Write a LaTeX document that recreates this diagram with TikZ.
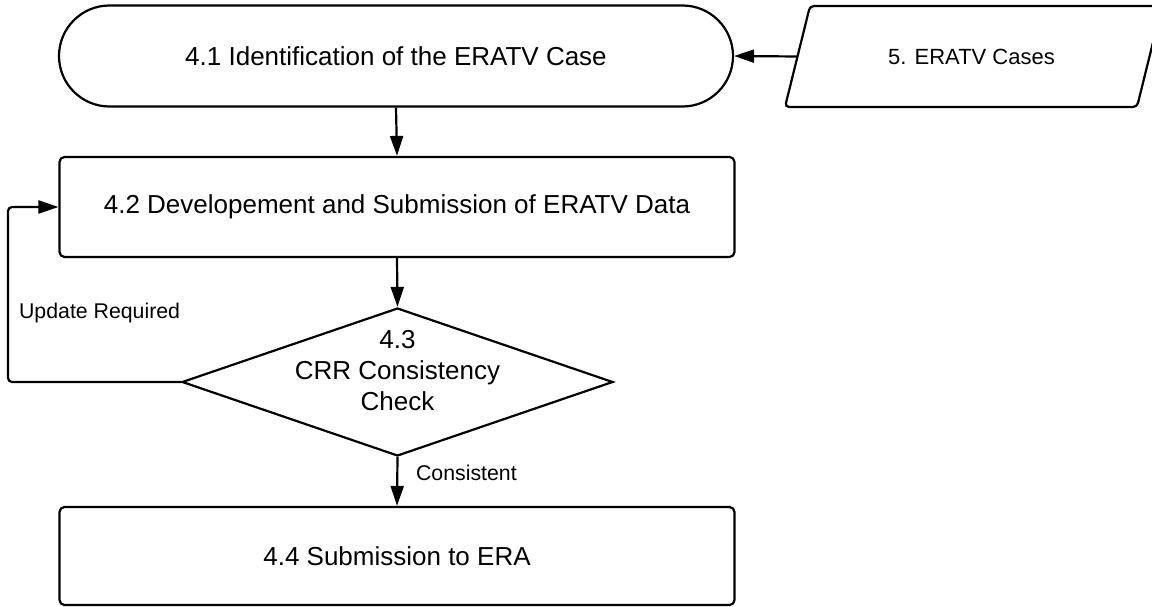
\documentclass[tikz,border=0pt]{standalone}
\usepackage{fontspec}
\setmainfont{Liberation Sans}
\usetikzlibrary{arrows.meta,shapes.geometric}
\begin{document}
\begin{tikzpicture}[x=1pt,y=-1pt,
  line width=2.2pt,
  big/.style={font=\fontsize{26}{31}\selectfont},
  small/.style={font=\fontsize{21.3}{26}\selectfont},
  boxshape/.style={draw, rectangle, rounded corners=5pt, minimum width=675pt, minimum height=100pt, inner sep=0pt, big},
  flow/.style={-{Triangle[length=20pt,width=13pt]}, line width=2.2pt}
]
\useasboundingbox (0,0) rectangle (1152,607);
\fill[white] (0,0) rectangle (1152,607);
\begin{scope}
\clip (0,0) rectangle (1152,607);
% terminal
\node[draw, rectangle, rounded corners=50.5pt, minimum width=674pt, minimum height=101pt, inner sep=0pt, big] (t41) at (396,56) {4.1 Identification of the ERATV Case};
% parallelogram data
\draw[rounded corners=4pt] (810,6) -- (1162,6) -- (1137,107) -- (785,107) -- cycle;
\node[font=\fontsize{22}{26}\selectfont] (d5) at (971.5,56.5) {5. ERATV Cases};
\coordinate (d5in) at (797.5,56.5);
% process boxes
\node[boxshape] (b42) at (397,207) {4.2 Developement and Submission of ERATV Data};
\node[boxshape, minimum height=98pt] (b44) at (397,556) {4.4 Submission to ERA};
% decision
\node[draw, diamond, minimum width=431pt, minimum height=148pt, inner sep=0pt] (d43) at (397.5,382) {};
\node[big, align=center] (d43t) at (397.5,371) {4.3\\CRR Consistency\\Check};
% connectors
\draw[flow] (d5in) -- (t41.east);
\draw[flow] (t41.south) -- (b42.north);
\draw[flow] (b42.south) -- (d43.north);
\coordinate (loopc) at (8,382);
\draw[flow, rounded corners=4pt] (d43.west) -- (loopc) |- (b42.west);
\draw[flow] (d43.south) -- (b44.north);
% labels
\node[small, anchor=west, inner sep=0pt] (lupd) at (18,312.5) {Update Required};
\node[small, anchor=west, inner sep=0pt] (lcons) at (415,473) {Consistent};
\end{scope}
\end{tikzpicture}
\end{document}
